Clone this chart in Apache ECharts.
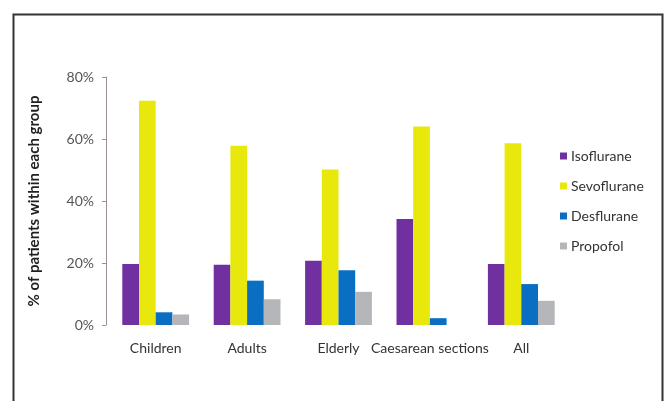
<!DOCTYPE html>
<html>
<head>
<meta charset="utf-8">
<script src="https://cdn.jsdelivr.net/npm/echarts@6/dist/echarts.min.js"></script>
<style>html,body{margin:0;padding:0;background:#fff}#c{width:667px;height:401px}</style>
</head>
<body>
<div id="c"></div>
<script>
const categories = ['Children', 'Adults', 'Elderly', 'Caesarean sections', 'All'];
const seriesNames = ['Isoflurane', 'Sevoflurane', 'Desflurane', 'Propofol'];
const isoflurane = [19.7, 19.4, 20.7, 34.2, 19.7];
const sevoflurane = [72.3, 57.8, 50.2, 64.0, 58.6];
const desflurane = [4.1, 14.3, 17.7, 2.2, 13.2];
const propofol = [3.4, 8.3, 10.7, 0, 7.8];
const yTicks = [0, 20, 40, 60, 80];

const colors = ['#7030A0', '#E8E80C', '#0A6FC2', '#B4B6BA'];
const FONT = 'Lato, "Open Sans", sans-serif';
const dataSets = [isoflurane, sevoflurane, desflurane, propofol];

const chart = echarts.init(document.getElementById('c'), null, {renderer: 'canvas'});
chart.setOption({
  animation: false,
  backgroundColor: '#fff',
  graphic: [{
    type: 'rect', left: 11, top: 12,
    shape: {width: 649, height: 400},
    style: {fill: 'none', stroke: '#333', lineWidth: 2}
  }],
  grid: {left: 110, top: 77, width: 457, height: 248, containLabel: false},
  legend: {
    orient: 'vertical', left: 555, top: 144,
    itemWidth: 7, itemHeight: 7, itemGap: 16,
    icon: 'rect',
    data: seriesNames,
    textStyle: {fontFamily: FONT, fontSize: 14, color: '#333', padding: [0, 0, 0, -1]}
  },
  xAxis: {
    type: 'category', data: categories,
    axisLine: {show: false},
    axisTick: {show: false},
    axisLabel: {fontFamily: FONT, fontSize: 14, color: '#333', margin: 16, interval: 0}
  },
  yAxis: {
    type: 'value', min: 0, max: 80, interval: 20,
    offset: 4,
    name: '% of patients within each group',
    nameLocation: 'middle', nameGap: 64, nameRotate: 90,
    nameTextStyle: {fontFamily: FONT, fontWeight: 'bold', fontSize: 15, color: '#222'},
    axisLine: {show: true, lineStyle: {color: '#9C8F8F', width: 1}},
    axisTick: {show: true, length: 4, lineStyle: {color: '#9C8F8F'}},
    splitLine: {show: false},
    axisLabel: {fontFamily: FONT, fontSize: 14, color: '#555', margin: 12,
      formatter: v => yTicks.includes(v) ? v + '%' : ''}
  },
  series: seriesNames.map((n, i) => ({
    name: n, type: 'bar', data: dataSets[i],
    barWidth: 16.7, barGap: '0%',
    itemStyle: {color: colors[i]}
  }))
});
</script>
</body>
</html>
